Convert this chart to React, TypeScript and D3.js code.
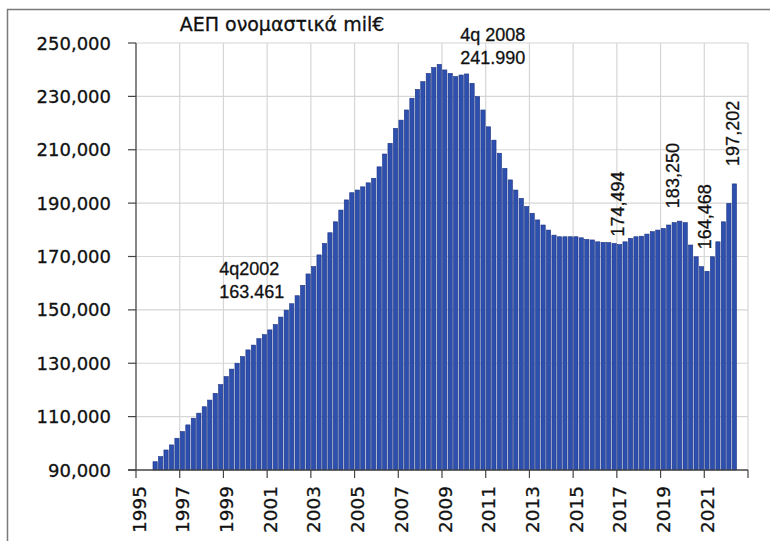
import React from "react";
import * as d3 from "d3";

// Rolling 4-quarter nominal GDP (mil €), quarterly from 1995Q4 to 2022Q2
const firstYear = 1995;
const lastYear = 2022;
const startQuarterIndex = 3; // 1995Q4
const gdpValues: number[] = [
  93100, 95000, 97500, 99400, 101900, 104400, 106900, 109400, 111300, 113700,
  116200, 118700, 122000, 125000, 127800, 130000, 132500, 135000, 136800, 139200,
  140700, 142500, 144500, 147300, 149900, 152300, 155300, 159200, 163461, 166200,
  170600, 174900, 178900, 183000, 187400, 191200, 193900, 194900, 196100, 197600,
  199300, 203600, 208400, 212400, 218000, 221100, 224900, 229300, 232600, 235500,
  238600, 240800, 241990, 239900, 238600, 237400, 238000, 238400, 234900, 229900,
  224900, 218600, 213600, 208700, 203000, 198700, 194900, 191800, 188700, 186200,
  183700, 181800, 179900, 178000, 177400, 177400, 177400, 177400, 177000, 176400,
  176200, 175500, 175300, 175200, 174900, 174494, 175500, 176800, 177400, 177600,
  178400, 179300, 179900, 180500, 181800, 182700, 183250, 182700, 174300, 169900,
  166200, 164468, 169900, 175500, 183000, 189900, 197202,
];

const yTicks = [90000, 110000, 130000, 150000, 170000, 190000, 210000, 230000, 250000];
const xTickYears = [1995, 1997, 1999, 2001, 2003, 2005, 2007, 2009, 2011, 2013, 2015, 2017, 2019, 2021, 2023];
const xTickLabels = ["1995", "1997", "1999", "2001", "2003", "2005", "2007", "2009", "2011", "2013", "2015", "2017", "2019", "2021"];

const titleText = "ΑΕΠ ονομαστικά mil€";
const flatNotes = [
  { lines: ["4q 2008", "241.990"], quarter: "2008Q4" },
  { lines: ["4q2002", "163.461"], quarter: "2002Q4" },
];
const rotatedNotes = [
  { text: "174,494", quarter: "2017Q1" },
  { text: "183,250", quarter: "2019Q4" },
  { text: "164,468", quarter: "2021Q1" },
  { text: "197,202", quarter: "2022Q2" },
];

export default function App() {
  const W = 770;
  const H = 541;
  const left = 136;
  const right = 748;
  const top = 43;
  const bottom = 470;

  const categories: string[] = [];
  for (let y = firstYear; y <= lastYear; y++) for (let q = 1; q <= 4; q++) categories.push(`${y}Q${q}`);
  const data = gdpValues.map((v, i) => ({ cat: categories[startQuarterIndex + i], v }));
  const valueOf = (cat: string) => data.find((d) => d.cat === cat)!.v;

  const x = d3.scaleBand<string>().domain(categories).range([left, right]).paddingInner(0.22).paddingOuter(0.11);
  const step = x.step();
  const boundary = (year: number) =>
    year > lastYear ? right : (x(`${year}Q1`) as number) - step * 0.11;
  const y = d3.scaleLinear().domain([90000, 250000]).range([bottom, top]);
  const fmt = d3.format(",");

  const tickFont = "'DejaVu Sans', Verdana, sans-serif";
  const noteFont = "'Liberation Sans', Arial, sans-serif";
  const ink = "#111";
  const heavy = { stroke: ink, strokeWidth: 0.3 } as const;

  const cx = (cat: string) => (x(cat) as number) + x.bandwidth() / 2;

  return (
    <svg width={W} height={H} style={{ position: "absolute", left: 0, top: 0, background: "#fff" }}>
      <rect x={7.5} y={9.5} width={820} height={600} fill="#fff" stroke="#7a7a7a" strokeWidth={1.5} />
      {/* gridlines */}
      {yTicks.filter((t) => t > 90000).map((t) => (
        <line key={"gy" + t} x1={left} x2={right} y1={y(t)} y2={y(t)} stroke="#d6d6d6" strokeWidth={1.2} />
      ))}
      {xTickYears.filter((yr) => yr > firstYear).map((yr) => (
        <line key={"gx" + yr} x1={boundary(yr)} x2={boundary(yr)} y1={top} y2={bottom} stroke="#d6d6d6" strokeWidth={1.2} />
      ))}
      {/* bars */}
      {data.map((d) => (
        <rect
          key={d.cat}
          x={x(d.cat)}
          y={y(d.v)}
          width={x.bandwidth()}
          height={bottom - y(d.v)}
          fill="#2d4fae"
          stroke="#1c3383"
          strokeWidth={0.6}
        />
      ))}
      {/* axes */}
      <line x1={left} x2={left} y1={top} y2={bottom} stroke="#444" strokeWidth={1.3} />
      <line x1={left - 8} x2={right} y1={bottom} y2={bottom} stroke="#444" strokeWidth={1.5} />
      {yTicks.map((t) => (
        <g key={"yt" + t}>
          <line x1={left - 8} x2={left} y1={y(t)} y2={y(t)} stroke="#444" strokeWidth={1.2} />
          <text
            x={left - 25}
            y={y(t)}
            textAnchor="end"
            dominantBaseline="central"
            fontFamily={tickFont}
            fontSize={18}
            fill={ink}
            {...heavy}
          >
            {fmt(t)}
          </text>
        </g>
      ))}
      {xTickYears.map((yr) => (
        <line key={"xt" + yr} x1={boundary(yr)} x2={boundary(yr)} y1={bottom} y2={bottom + 8} stroke="#444" strokeWidth={1.2} />
      ))}
      {xTickLabels.map((lab) => {
        const bx = boundary(+lab) + 3;
        const by = bottom + 16;
        return (
          <text
            key={"xl" + lab}
            transform={`translate(${bx},${by}) rotate(-90)`}
            textAnchor="end"
            dominantBaseline="central"
            fontFamily={tickFont}
            fontSize={18.5}
            fill={ink}
            {...heavy}
          >
            {lab}
          </text>
        );
      })}
      {/* title */}
      <text x={282} y={31} textAnchor="middle" fontFamily={tickFont} fontSize={19} fill={ink} {...heavy}>
        {titleText}
      </text>
      {/* flat annotations */}
      {flatNotes.map((n) => {
        const px = cx(n.quarter);
        const isPeak = n.quarter === "2008Q4";
        const ax = isPeak ? px + 21 : px - 89;
        const ay = isPeak ? y(valueOf(n.quarter)) - 23 : y(valueOf(n.quarter)) + 1;
        return (
          <text key={n.quarter} fontFamily={noteFont} fontSize={18} fill={ink} {...heavy}>
            <tspan x={ax} y={ay}>{n.lines[0]}</tspan>
            <tspan x={ax} y={ay + 23}>{n.lines[1]}</tspan>
          </text>
        );
      })}
      {/* rotated annotations */}
      {rotatedNotes.map((n) => {
        const px = cx(n.quarter);
        const v = valueOf(n.quarter);
        const offsets: Record<string, [number, number]> = {
          "2017Q1": [-2, -8],
          "2019Q4": [-7, -13],
          "2021Q1": [-2, -22],
          "2022Q2": [-1, -18],
        };
        const [dx, dy] = offsets[n.quarter];
        return (
          <text
            key={n.text}
            transform={`translate(${px + dx},${y(v) + dy}) rotate(-90)`}
            textAnchor="start"
            dominantBaseline="central"
            fontFamily={noteFont}
            fontSize={18}
            fill={ink}
            {...heavy}
          >
            {n.text}
          </text>
        );
      })}
    </svg>
  );
}
